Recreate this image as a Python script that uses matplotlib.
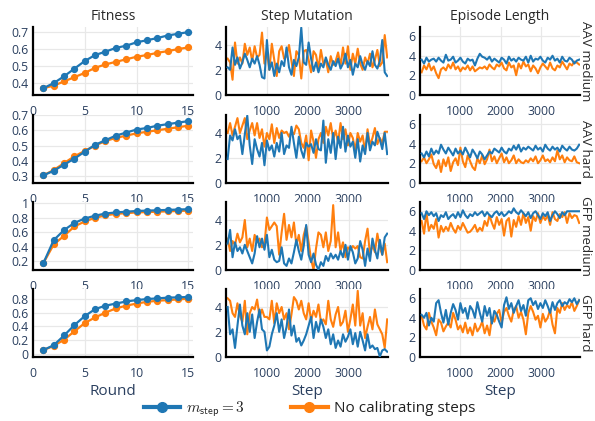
import numpy as np
import matplotlib
matplotlib.use("Agg")
import matplotlib.pyplot as plt
from matplotlib.lines import Line2D

plt.rcParams["font.family"] = ["Open Sans", "DejaVu Sans"]
plt.rcParams["mathtext.fontset"] = "cm"

BLUE = "#1f77b4"
ORANGE = "#ff7f0e"
TXT = "#2a3f5f"

col_titles = ["Fitness", "Step Mutation", "Episode Length"]
row_labels = ["AAV medium", "AAV hard", "GFP medium", "GFP hard"]
series_names = [r"$m_{\mathsf{step}} = 3$", "No calibrating steps"]

rounds = list(range(1, 16))

# fitness per round: (m_step=3, no calibrating)
fit_aav_med = ([0.37, 0.40, 0.44, 0.485, 0.53, 0.565, 0.585, 0.607, 0.62, 0.64, 0.652, 0.665, 0.68, 0.69, 0.70],
               [0.37, 0.385, 0.41, 0.435, 0.46, 0.49, 0.51, 0.525, 0.54, 0.555, 0.565, 0.578, 0.588, 0.60, 0.61])
fit_aav_hard = ([0.305, 0.335, 0.375, 0.415, 0.46, 0.505, 0.535, 0.565, 0.585, 0.605, 0.615, 0.63, 0.64, 0.65, 0.66],
                [0.305, 0.34, 0.385, 0.43, 0.465, 0.50, 0.53, 0.55, 0.565, 0.58, 0.59, 0.60, 0.61, 0.62, 0.63])
fit_gfp_med = ([0.17, 0.49, 0.63, 0.73, 0.79, 0.83, 0.86, 0.875, 0.885, 0.895, 0.90, 0.905, 0.91, 0.915, 0.92],
               [0.17, 0.43, 0.55, 0.68, 0.75, 0.80, 0.835, 0.855, 0.865, 0.875, 0.88, 0.885, 0.89, 0.895, 0.90])
fit_gfp_hard = ([0.06, 0.13, 0.27, 0.42, 0.55, 0.65, 0.70, 0.73, 0.76, 0.78, 0.795, 0.805, 0.815, 0.82, 0.825],
                [0.06, 0.12, 0.21, 0.33, 0.45, 0.53, 0.60, 0.66, 0.70, 0.73, 0.755, 0.77, 0.78, 0.79, 0.80])

# step mutation, sampled every 60 steps
sm_aav_med = (
    [2.2, 2.0, 3.8, 2.4, 3.0, 2.1, 2.6, 3.3, 2.8, 2.2, 2.9, 2.5, 3.1, 2.4, 1.4, 1.3, 4.4, 2.0, 2.6, 1.5, 2.5, 1.8,
     2.7, 2.3, 3.8, 2.2, 1.6, 2.8, 2.3, 3.0, 5.4, 2.6, 2.4, 4.2, 2.9, 1.9, 2.6, 1.8, 2.5, 2.2, 3.0, 2.4, 2.0, 2.7,
     2.3, 2.9, 2.1, 2.5, 3.3, 2.2, 2.8, 1.6, 2.5, 2.2, 3.1, 2.4, 2.0, 2.7, 2.3, 3.5, 2.4, 2.1, 2.7, 4.4, 1.8, 1.5],
    [2.9, 2.6, 1.2, 4.2, 2.5, 3.0, 2.5, 4.1, 3.2, 3.8, 2.7, 3.9, 3.0, 3.2, 5.0, 2.5, 3.5, 2.0, 4.1, 2.8, 1.5, 3.5,
     3.9, 2.9, 3.1, 4.0, 2.7, 1.5, 3.5, 3.2, 1.3, 3.5, 3.6, 2.8, 1.8, 3.5, 3.2, 2.1, 3.6, 2.5, 2.8, 1.8, 3.1, 2.4,
     2.7, 3.4, 2.3, 3.8, 2.5, 3.9, 2.0, 3.3, 2.5, 3.7, 2.5, 2.0, 3.0, 2.5, 3.3, 2.2, 2.8, 3.6, 2.3, 2.6, 4.8, 3.0])
sm_aav_hard = (
    [1.9, 3.8, 3.4, 4.3, 3.5, 3.8, 2.3, 3.9, 5.4, 3.0, 1.5, 3.5, 2.7, 2.1, 3.2, 1.4, 3.4, 2.6, 3.0, 2.1, 3.2, 2.5,
     4.0, 2.3, 3.0, 2.8, 4.5, 3.2, 2.0, 3.7, 2.6, 2.0, 3.2, 2.9, 3.1, 2.4, 3.5, 2.7, 2.6, 5.0, 1.6, 3.5, 2.4, 4.0,
     1.9, 3.7, 2.8, 4.5, 2.5, 3.8, 2.9, 3.3, 2.0, 3.5, 1.7, 3.0, 2.3, 4.0, 2.6, 3.3, 3.0, 4.1, 3.5, 2.7, 4.0, 2.3],
    [4.0, 4.8, 3.8, 4.5, 5.2, 4.0, 4.6, 5.2, 3.5, 4.2, 4.8, 3.8, 4.8, 3.6, 4.3, 2.9, 4.0, 3.5, 4.7, 3.2, 4.4, 3.6,
     4.2, 4.0, 4.1, 3.7, 4.1, 3.9, 4.6, 4.3, 3.2, 2.8, 3.8, 1.8, 4.2, 3.3, 2.0, 3.5, 4.0, 3.2, 4.5, 3.8, 4.8, 3.5,
     4.2, 3.2, 4.8, 3.5, 4.3, 3.0, 4.0, 3.6, 2.6, 4.0, 3.3, 3.8, 2.5, 4.3, 3.0, 3.6, 4.4, 3.1, 3.6, 3.2, 4.1, 4.1])
sm_gfp_med = (
    [2.1, 3.2, 1.0, 2.2, 1.5, 1.8, 1.3, 2.0, 1.5, 1.0, 0.5, 1.3, 2.7, 1.8, 2.5, 1.6, 2.8, 1.0, 1.6, 0.8, 0.6, 0.7,
     1.8, 0.5, 0.3, 0.9, 0.5, 1.4, 2.4, 1.5, 0.8, 1.9, 3.6, 1.2, 0.6, 1.3, 0.4, 0.0, 0.6, 0.3, 1.1, 0.7, 1.3, 0.9,
     1.2, 0.8, 1.5, 1.0, 2.0, 0.8, 1.9, 1.4, 0.5, 0.9, 2.3, 1.6, 0.3, 1.7, 0.7, 2.5, 1.6, 0.9, 2.4, 1.2, 2.6, 2.9],
    [2.5, 1.5, 2.3, 2.0, 2.9, 2.2, 2.6, 4.0, 1.8, 2.5, 1.5, 2.8, 2.2, 2.5, 1.8, 2.0, 4.2, 3.2, 3.5, 3.8, 3.5, 1.2,
     3.0, 4.5, 2.4, 3.6, 2.6, 3.8, 2.0, 2.8, 1.5, 2.8, 3.5, 2.2, 0.8, 0.0, 1.7, 3.0, 2.8, 1.8, 3.0, 1.5, 2.3, 5.2,
     1.8, 3.0, 1.5, 2.2, 1.0, 1.8, 1.6, 1.9, 1.7, 1.9, 1.0, 0.9, 2.3, 3.3, 1.2, 2.0, 1.4, 2.9, 1.8, 1.2, 2.1, 0.6])
sm_gfp_hard = (
    [4.0, 1.8, 2.2, 0.7, 2.5, 4.2, 2.5, 1.8, 3.5, 2.0, 3.4, 1.5, 2.8, 3.8, 2.2, 2.0, 0.5, 0.8, 1.8, 2.5, 3.5, 2.0,
     3.0, 1.5, 2.4, 3.8, 1.7, 2.5, 1.2, 1.5, 0.9, 1.3, 1.8, 2.5, 3.2, 1.5, 2.8, 2.0, 3.0, 2.4, 1.5, 2.2, 1.0, 1.8,
     0.7, 1.3, 0.8, 1.8, 1.2, 1.6, 2.2, 1.0, 1.9, 0.8, 2.0, 1.3, 0.5, 1.8, 0.7, 0.9, 0.6, 0.7, 0.0, 0.5, 0.6, 0.4],
    [4.7, 4.5, 3.5, 3.2, 4.3, 3.3, 2.8, 4.5, 1.8, 3.5, 4.0, 3.8, 4.6, 3.2, 3.8, 3.2, 3.2, 3.0, 4.5, 2.7, 4.3, 3.5,
     4.0, 3.0, 3.5, 2.2, 3.4, 4.8, 4.5, 3.8, 4.5, 3.5, 3.0, 4.3, 2.9, 3.7, 3.2, 4.2, 2.8, 3.0, 2.6, 4.5, 3.0, 2.4,
     3.4, 4.0, 2.5, 2.8, 3.7, 2.0, 3.0, 4.2, 2.5, 5.3, 2.5, 3.5, 1.5, 2.4, 3.2, 2.2, 3.8, 2.6, 2.2, 1.8, 0.7, 3.0])

# episode length, sampled every 60 steps
el_aav_med = (
    [3.6, 3.2, 3.8, 3.4, 3.6, 3.7, 3.4, 3.8, 3.5, 3.3, 4.1, 3.5, 3.6, 3.9, 3.3, 3.5, 3.8, 3.4, 3.2, 3.7, 3.5, 3.6,
     3.0, 3.7, 4.2, 3.9, 3.8, 3.6, 3.9, 3.4, 3.7, 3.5, 3.3, 3.8, 3.6, 3.2, 3.9, 3.5, 3.7, 3.4, 3.8, 3.6, 3.5, 3.9,
     3.3, 4.0, 3.4, 3.7, 3.6, 3.9, 3.5, 3.3, 3.8, 3.6, 4.0, 3.5, 3.7, 3.3, 3.9, 3.5, 3.4, 3.8, 3.6, 3.2, 3.5, 3.6],
    [2.3, 3.0, 2.6, 3.2, 2.5, 2.9, 2.2, 1.7, 2.6, 2.8, 2.5, 3.1, 2.7, 3.3, 2.6, 2.9, 2.4, 2.8, 2.6, 3.0, 2.5, 2.9,
     2.4, 2.6, 2.8, 2.7, 2.9, 2.6, 3.1, 2.8, 2.6, 3.1, 2.9, 3.3, 2.7, 2.5, 3.3, 2.8, 3.0, 2.0, 3.2, 2.7, 3.4, 2.9,
     3.1, 2.4, 3.0, 2.7, 2.2, 2.8, 3.2, 2.9, 2.6, 3.3, 2.7, 2.5, 3.0, 2.8, 3.4, 3.0, 2.6, 3.2, 3.0, 3.4, 3.3, 3.1])
el_aav_hard = (
    [3.0, 2.6, 3.2, 2.7, 3.5, 2.9, 3.3, 3.0, 3.9, 3.4, 3.0, 3.6, 3.2, 2.8, 3.5, 3.0, 3.3, 2.9, 3.6, 3.1, 2.6, 3.4,
     3.0, 2.5, 3.2, 2.9, 2.4, 2.8, 3.2, 3.0, 3.5, 3.3, 3.1, 3.6, 3.2, 3.0, 3.5, 3.3, 3.8, 3.4, 3.9, 3.2, 3.6, 3.4,
     3.7, 3.5, 3.3, 3.8, 3.4, 3.6, 3.2, 3.9, 3.5, 3.3, 3.7, 3.4, 3.6, 3.2, 3.8, 3.5, 3.3, 3.7, 3.4, 3.3, 3.5, 3.9],
    [2.2, 2.6, 2.0, 2.4, 2.9, 1.9, 1.5, 2.3, 1.1, 2.4, 1.7, 2.6, 1.2, 2.1, 2.5, 1.8, 3.6, 2.2, 1.6, 2.8, 2.2, 1.6,
     1.3, 2.5, 2.0, 2.8, 1.9, 2.4, 3.4, 2.2, 2.7, 2.0, 2.5, 3.0, 2.1, 2.6, 2.0, 2.3, 2.8, 2.0, 2.4, 2.1, 2.0, 2.3,
     2.1, 2.5, 2.2, 2.7, 2.0, 2.3, 2.8, 2.2, 2.4, 2.1, 2.6, 2.2, 3.3, 2.4, 2.8, 2.1, 2.6, 2.3, 2.2, 2.7, 2.1, 2.0])
el_gfp_med = (
    [5.8, 5.2, 6.0, 5.6, 5.9, 5.5, 5.8, 5.0, 5.6, 5.4, 5.9, 5.2, 5.5, 5.7, 5.3, 5.9, 5.4, 6.1, 5.6, 5.3, 5.7, 5.5,
     5.9, 5.6, 5.8, 6.0, 5.5, 5.9, 5.6, 5.4, 5.8, 6.0, 5.6, 5.9, 5.5, 5.7, 6.0, 5.8, 6.3, 5.9, 5.7, 6.1, 5.8, 5.5,
     5.9, 5.3, 5.8, 6.0, 5.6, 5.2, 5.8, 5.5, 5.9, 5.0, 5.6, 6.0, 5.7, 5.3, 5.9, 5.6, 6.0, 6.0, 6.0, 6.0, 6.0, 6.0],
    [5.0, 3.7, 5.8, 4.0, 4.6, 4.2, 5.2, 3.3, 4.5, 3.9, 4.4, 4.0, 4.8, 4.2, 3.8, 4.5, 4.1, 4.8, 4.3, 3.8, 3.9, 4.2,
     4.6, 3.9, 4.3, 4.0, 5.0, 4.5, 5.6, 4.8, 4.2, 5.4, 4.6, 5.2, 3.5, 5.0, 5.3, 3.4, 5.1, 4.4, 5.5, 4.6, 5.8, 4.8,
     5.4, 4.0, 5.5, 5.0, 5.8, 4.8, 5.5, 5.1, 5.6, 4.6, 5.9, 5.2, 5.0, 5.7, 5.4, 5.9, 4.8, 5.8, 5.3, 5.6, 5.5, 4.8])
el_gfp_hard = (
    [4.3, 4.0, 4.5, 3.2, 4.0, 3.6, 5.5, 5.8, 4.5, 3.5, 4.8, 3.3, 4.5, 5.4, 4.8, 3.8, 5.5, 4.5, 5.0, 3.9, 5.2, 4.8,
     4.0, 5.6, 4.5, 3.6, 5.2, 4.2, 5.0, 3.4, 4.7, 4.3, 3.6, 3.0, 5.3, 6.1, 4.9, 5.5, 4.5, 5.2, 5.8, 4.7, 5.3, 4.2,
     5.8, 6.0, 5.3, 5.7, 4.9, 5.5, 5.0, 5.8, 5.2, 4.5, 5.6, 4.8, 5.5, 5.8, 5.2, 5.6, 5.4, 5.9, 5.6, 6.0, 5.4, 5.8],
    [4.2, 3.2, 2.8, 4.5, 3.6, 3.0, 2.2, 3.8, 3.5, 2.6, 3.1, 3.5, 3.0, 4.5, 3.8, 2.8, 3.2, 2.5, 3.5, 2.4, 3.0, 2.2,
     3.4, 2.6, 3.0, 3.6, 2.4, 3.2, 2.2, 4.0, 3.6, 4.4, 4.8, 3.5, 4.6, 5.0, 4.2, 3.6, 4.8, 5.2, 4.0, 4.6, 3.8, 2.3,
     4.5, 5.2, 4.6, 3.8, 4.2, 3.0, 4.4, 3.6, 4.0, 4.8, 3.3, 2.4, 5.0, 4.5, 5.5, 4.8, 5.3, 5.0, 5.6, 4.7, 5.2, 5.8])

fitness = [fit_aav_med, fit_aav_hard, fit_gfp_med, fit_gfp_hard]
step_mut = [sm_aav_med, sm_aav_hard, sm_gfp_med, sm_gfp_hard]
ep_len = [el_aav_med, el_aav_hard, el_gfp_med, el_gfp_hard]

fit_ylims = [(0.33, 0.73), (0.255, 0.70), (0.075, 1.02), (-0.04, 0.94)]
fit_yticks = [[0.4, 0.5, 0.6, 0.7], [0.3, 0.4, 0.5, 0.6, 0.7],
              [0.2, 0.4, 0.6, 0.8, 1.0], [0, 0.2, 0.4, 0.6, 0.8]]

W, H = 595, 421
fig = plt.figure(figsize=(W / 100, H / 100), dpi=100)
cols_px = [(33, 193), (226, 388), (420, 580)]
rows_px = [(27, 95), (115, 183), (202, 270), (289, 357)]


def style(ax):
    for s in ["top", "right"]:
        ax.spines[s].set_visible(False)
    for s in ["left", "bottom"]:
        ax.spines[s].set_linewidth(1.6)
        ax.spines[s].set_color("black")
    ax.grid(True, color="#e8e8e8", linewidth=0.9)
    ax.set_axisbelow(True)
    ax.tick_params(length=0, labelsize=8.8, labelcolor=TXT)
    ax.tick_params(axis="x", pad=7)
    ax.tick_params(axis="y", pad=3)


for r in range(4):
    y0, y1 = rows_px[r]
    axs = []
    for c in range(3):
        x0, x1 = cols_px[c]
        ax = fig.add_axes([x0 / W, 1 - y1 / H, (x1 - x0) / W, (y1 - y0) / H])
        style(ax)
        axs.append(ax)

    ax = axs[0]
    ax.plot(rounds, fitness[r][0], color=BLUE, lw=1.6, marker="o", ms=4.2, zorder=3)
    ax.plot(rounds, fitness[r][1], color=ORANGE, lw=1.6, marker="o", ms=4.2, zorder=2)
    ax.set_xlim(0, 15.45)
    ax.set_xticks([0, 5, 10, 15])
    ax.set_ylim(*fit_ylims[r])
    ax.set_yticks(fit_yticks[r])
    ax.set_yticklabels(["{:g}".format(v) for v in fit_yticks[r]])

    for ax, data, ylim, yt in [(axs[1], step_mut[r], (-0.03, 5.45), [0, 2, 4]),
                               (axs[2], ep_len[r], (-0.03, 6.95), [0, 2, 4, 6])]:
        for vals, col, z in [(data[0], BLUE, 3), (data[1], ORANGE, 2)]:
            xs = np.linspace(40, 3940, len(vals))
            ax.plot(xs, vals, color=col, lw=1.5, zorder=z)
        ax.set_xlim(0, 3960)
        ax.set_xticks([1000, 2000, 3000])
        ax.set_ylim(*ylim)
        ax.set_yticks(yt)

    if r == 0:
        for c, t in enumerate(col_titles):
            axs[c].set_title(t, fontsize=10, color="#2a2a2a", pad=5)
    if r == 3:
        axs[0].set_xlabel("Round", fontsize=11, color=TXT, labelpad=3)
        axs[1].set_xlabel("Step", fontsize=11, color=TXT, labelpad=3)
        axs[2].set_xlabel("Step", fontsize=11, color=TXT, labelpad=3)

    fig.text(586 / W, 1 - (y0 + y1) / 2 / H, row_labels[r], rotation=-90,
             ha="center", va="center", fontsize=9.6, color="#2a2a2a")

handles = [Line2D([], [], color=BLUE, lw=3, marker="o", ms=7),
           Line2D([], [], color=ORANGE, lw=3, marker="o", ms=7)]
fig.legend(handles, series_names, loc="center", bbox_to_anchor=(0.52, 1 - 409 / H),
           ncol=2, frameon=False, fontsize=11, handlelength=2.4, columnspacing=3.0,
           handletextpad=0.4, labelcolor="#222222")

fig.savefig("out.png", dpi=100)
